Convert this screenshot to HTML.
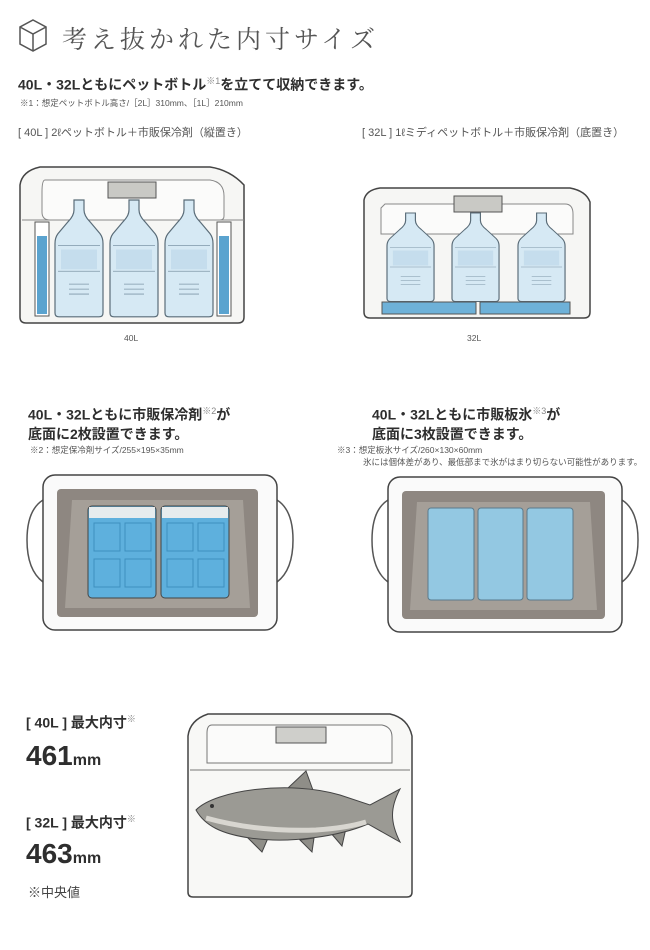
<!DOCTYPE html>
<html><head><meta charset="utf-8"><style>
body{margin:0;background:#fff;width:650px;height:950px;overflow:hidden;position:relative;font-family:"Liberation Sans","Noto Sans CJK JP",sans-serif;color:#333}
.t{position:absolute;white-space:nowrap}
.h{font-weight:bold;font-size:14px;color:#2e2e2e}
.n{font-size:8.5px;color:#555}
.l{font-size:11px;color:#555}
sup{font-size:9px;color:#888;font-weight:normal}
</style></head><body>
<svg width="650" height="950" style="position:absolute;left:0;top:0">
<defs>
<g id="bt">
<path d="M19,0 h10 v10 q0,6 6,12 l10,12 q3,4 3,10 v70 q0,4 -4,4 h-40 q-4,0 -4,-4 v-70 q0,-6 3,-10 l10,-12 q6,-6 6,-12z" fill="#d6e9f4" stroke="#5a6c78" stroke-width="1.2"/>
<path d="M3,46 h42 M3,72 h42 M14,85 h20 M14,90 h20 M14,95 h20" stroke="#7f97a8" stroke-width="0.8" fill="none"/>
<rect x="6" y="50" width="36" height="20" fill="#b9d6e8" opacity=".6"/>
</g>
</defs>
<g stroke="#555" stroke-width="1.5" fill="none"><path d="M33,20 l13,7 v17 l-13,7 l-13,-7 v-17z M20,27 l13,7 l13,-7 M33,34 v17"/></g>
<!-- 40L cooler -->
<path d="M20,185 q2,-14 20,-18 h170 q20,3 34,18 v132 q0,6 -6,6 h-212 q-6,0 -6,-6z" fill="#f6f6f4" stroke="#444" stroke-width="1.5"/>
<path d="M45,180 h165 q14,2 14,16 v20 q0,4 -4,4 h-170 q-8,0 -8,-8 v-20 q0,-12 3,-12z" fill="#fbfbfa" stroke="#888" stroke-width="1"/>
<rect x="108" y="182" width="48" height="16" fill="#c9c9c5" stroke="#555"/>
<path d="M22,220 h222" stroke="#888"/>
<rect x="35" y="222" width="14" height="94" fill="#fff" stroke="#555"/><rect x="37" y="236" width="10" height="78" fill="#5aa3cf"/>
<rect x="217" y="222" width="14" height="94" fill="#fff" stroke="#555"/><rect x="219" y="236" width="10" height="78" fill="#5aa3cf"/>
<use href="#bt" transform="translate(55,200) scale(1,0.99)"/>
<use href="#bt" transform="translate(110,200) scale(1,0.99)"/>
<use href="#bt" transform="translate(165,200) scale(1,0.99)"/>
<!-- 32L cooler -->
<path d="M364,200 q2,-10 16,-12 h190 q16,3 20,14 v110 q0,6 -6,6 h-214 q-6,0 -6,-6z" fill="#f6f6f4" stroke="#444" stroke-width="1.5"/>
<path d="M385,204 h180 q8,0 8,10 v20 h-192 v-26z" fill="#fbfbfa" stroke="#888"/>
<rect x="454" y="196" width="48" height="16" fill="#c9c9c5" stroke="#555"/>
<use href="#bt" transform="translate(387,213) scale(0.98,0.75)"/>
<use href="#bt" transform="translate(452,213) scale(0.98,0.75)"/>
<use href="#bt" transform="translate(518,213) scale(0.98,0.75)"/>
<rect x="382" y="302" width="94" height="12" fill="#6eb1d8" stroke="#555"/>
<rect x="480" y="302" width="90" height="12" fill="#6eb1d8" stroke="#555"/>
<!-- top view left -->
<g>
<path d="M43,500 q-16,10 -16,40 q0,30 16,42 M277,500 q16,10 16,40 q0,30 -16,42" fill="none" stroke="#555" stroke-width="1.5"/>
<rect x="43" y="475" width="234" height="155" rx="12" fill="#fafafa" stroke="#444" stroke-width="1.5"/>
<rect x="57" y="489" width="201" height="128" rx="4" fill="#8e8781"/>
<polygon points="72,500 243,500 250,608 65,608" fill="#a59f98"/>
<rect x="88" y="506" width="68" height="92" rx="4" fill="#5eb0dd" stroke="#444"/>
<rect x="89" y="507" width="66" height="11" fill="#e6ecee"/>
<rect x="161" y="506" width="68" height="92" rx="4" fill="#5eb0dd" stroke="#444"/>
<rect x="162" y="507" width="66" height="11" fill="#e6ecee"/>
<g fill="none" stroke="#3e8fbe"><rect x="94" y="523" width="26" height="28"/><rect x="125" y="523" width="26" height="28"/><rect x="94" y="559" width="26" height="28"/><rect x="125" y="559" width="26" height="28"/><rect x="167" y="523" width="26" height="28"/><rect x="198" y="523" width="26" height="28"/><rect x="167" y="559" width="26" height="28"/><rect x="198" y="559" width="26" height="28"/></g>
</g>
<!-- top view right -->
<g>
<path d="M388,500 q-16,10 -16,40 q0,30 16,42 M622,500 q16,10 16,40 q0,30 -16,42" fill="none" stroke="#555" stroke-width="1.5"/>
<rect x="388" y="477" width="234" height="155" rx="12" fill="#fafafa" stroke="#444" stroke-width="1.5"/>
<rect x="402" y="491" width="203" height="128" rx="4" fill="#8e8781"/>
<polygon points="417,502 590,502 597,610 410,610" fill="#a59f98"/>
<rect x="428" y="508" width="46" height="92" rx="3" fill="#93c8e2" stroke="#5a7a8c"/>
<rect x="478" y="508" width="45" height="92" rx="3" fill="#93c8e2" stroke="#5a7a8c"/>
<rect x="527" y="508" width="46" height="92" rx="3" fill="#93c8e2" stroke="#5a7a8c"/>
</g>
<!-- fish cooler -->
<path d="M188,736 q2,-16 20,-22 h182 q18,4 22,22 v156 q0,5 -5,5 h-214 q-5,0 -5,-5z" fill="#f8f8f6" stroke="#444" stroke-width="1.5"/>
<path d="M212,725 h170 q10,2 10,12 v26 h-185 v-30 q0,-8 5,-8z" fill="#fbfbfa" stroke="#777"/>
<rect x="276" y="727" width="50" height="16" fill="#cfcfcb" stroke="#555"/>
<path d="M190,770 h220" stroke="#777"/>
<path d="M288,788 L306,771 L314,793z M246,836 L262,852 L268,838z M300,840 L312,852 L314,838z M330,832 L342,846 L346,828z" fill="#8f8e88" stroke="#444"/>
<path d="M196,810 C215,790 290,780 340,795 L370,805 L400,789 C390,808 390,822 400,842 L368,824 C340,836 290,844 250,838 C222,834 205,826 196,810Z" fill="#9b9a94" stroke="#444"/>
<path d="M206,818 q50,14 110,12 q30,-2 50,-8" stroke="#d8d6d0" stroke-width="5" fill="none"/>
<circle cx="212" cy="806" r="2" fill="#333"/>
</svg>
<div class="t" style="left:62px;top:20px;font-size:25px;color:#555;letter-spacing:4px;font-family:'Noto Serif CJK SC',serif">考え抜かれた内寸サイズ</div>
<div class="t h" style="left:18px;top:74px">40L・32Lともにペットボトル<sup>※1</sup>を立てて収納できます。</div>
<div class="t n" style="left:20px;top:97px">※1：想定ペットボトル高さ/［2L］310mm、［1L］210mm</div>
<div class="t l" style="left:18px;top:124px">[ 40L ] 2ℓペットボトル＋市販保冷剤（縦置き）</div>
<div class="t l" style="left:362px;top:124px">[ 32L ] 1ℓミディペットボトル＋市販保冷剤（底置き）</div>
<div class="t n" style="left:124px;top:333px">40L</div>
<div class="t n" style="left:467px;top:333px">32L</div>
<div class="t h" style="left:28px;top:402px;line-height:19px">40L・32Lともに市販保冷剤<sup>※2</sup>が<br>底面に2枚設置できます。</div>
<div class="t n" style="left:30px;top:444px">※2：想定保冷剤サイズ/255×195×35mm</div>
<div class="t h" style="left:372px;top:402px;line-height:19px">40L・32Lともに市販板氷<sup>※3</sup>が<br>底面に3枚設置できます。</div>
<div class="t n" style="left:337px;top:444px;line-height:12px">※3：想定板氷サイズ/260×130×60mm<br>&nbsp;&nbsp;&nbsp;&nbsp;&nbsp;&nbsp;&nbsp;&nbsp;&nbsp;&nbsp;&nbsp;氷には個体差があり、最低部まで氷がはまり切らない可能性があります。</div>
<div class="t h" style="left:26px;top:712px;font-size:14px">[ 40L ] 最大内寸<sup>※</sup></div>
<div class="t" style="left:26px;top:740px;font-size:28px;font-weight:bold;color:#2e2e2e">461<span style="font-size:16px">mm</span></div>
<div class="t h" style="left:26px;top:812px;font-size:14px">[ 32L ] 最大内寸<sup>※</sup></div>
<div class="t" style="left:26px;top:838px;font-size:28px;font-weight:bold;color:#2e2e2e">463<span style="font-size:16px">mm</span></div>
<div class="t" style="left:28px;top:882px;font-size:13px;color:#444">※中央値</div>
</body></html>
